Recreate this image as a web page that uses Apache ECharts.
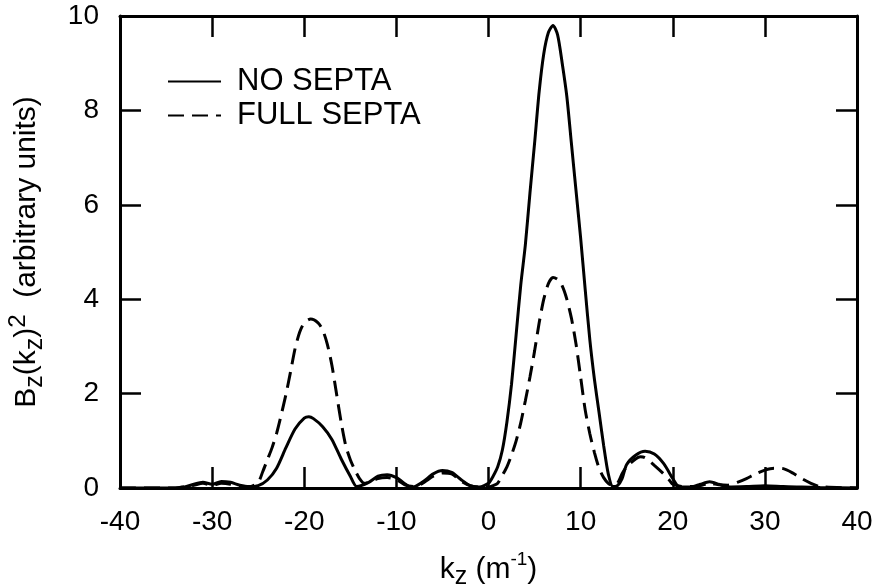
<!DOCTYPE html>
<html>
<head>
<meta charset="utf-8">
<script src="https://cdn.jsdelivr.net/npm/echarts@6/dist/echarts.min.js"></script>
<style>
  html, body { margin: 0; padding: 0; background: #fff; }
  #chart { width: 880px; height: 585px; }
</style>
</head>
<body>
<div id="chart"></div>
<script>
// k_z values (m^-1) and spectrum values
const kNoSepta = [-40, -34, -33, -32, -31, -30, -29, -28, -27, -26, -25, -24, -23, -22, -21, -20, -19.5, -19, -18, -17, -16, -15, -14.3,
  -13, -12, -11, -10, -9, -8.5, -8, -7, -6, -5, -4, -3, -2, -1, 0, 0.5, 1, 1.5, 2, 2.5, 3, 3.5, 4, 4.5, 5, 5.5, 6, 6.5, 7, 7.5, 8, 8.5,
  9, 9.5, 10, 10.5, 11, 11.5, 12, 12.5, 13, 13.5, 14, 14.5, 15, 16, 17, 18, 19, 20, 20.5, 21, 22, 23, 24, 25, 26, 28, 30, 32, 34, 36, 40]
const noSepta = [0, 0, 0.02, 0.08, 0.12, 0.08, 0.14, 0.12, 0.06, 0.03, 0.05, 0.17, 0.42, 0.85, 1.25, 1.48, 1.51, 1.47, 1.3, 1.03, 0.62, 0.25, 0.03,
  0.12, 0.25, 0.28, 0.22, 0.08, 0.02, 0.03, 0.15, 0.3, 0.37, 0.33, 0.18, 0.05, 0.02, 0.1, 0.25, 0.45, 0.8, 1.4, 2.2, 3.25, 4.3, 5.15, 6.25, 7.3, 8.4, 9.2, 9.65, 9.8, 9.6, 9.0, 8.3,
  7.3, 6.3, 5.3, 4.2, 3.14, 2.3, 1.6, 0.9, 0.3, 0.03, 0.05, 0.2, 0.5, 0.7, 0.78, 0.72, 0.52, 0.2, 0.05, 0.02, 0.02, 0.08, 0.13, 0.08, 0.02, 0.03, 0.05, 0.03, 0.02, 0.01, 0]

const kFullSepta = [-40, -34, -33, -32, -31, -30, -29, -28, -27, -26, -25, -24.5, -24, -23.5, -23, -22.5, -22, -21.5, -21, -20.5, -20, -19.3, -18.5, -18, -17.5, -17, -16.5,
  -16, -15.5, -15, -14.5, -14, -13.5, -13, -12, -11, -10, -9, -8, -7, -6, -5, -4, -3, -2, -1, 0, 0.5, 1, 1.5, 2, 2.5, 3, 3.5, 4, 4.5, 5, 5.5, 6, 6.5, 7, 7.5, 8, 8.5,
  9, 9.5, 10, 10.5, 11, 11.5, 12, 12.5, 13, 13.5, 14, 14.5, 15, 16, 16.5, 17, 18, 19, 19.7, 20, 21, 22, 23, 24, 25, 26, 27, 28, 29, 30, 31, 32, 33, 34, 35, 36, 40]
const fullSepta = [0, 0, 0.03, 0.06, 0.1, 0.06, 0.1, 0.08, 0.03, 0.02, 0.12, 0.35, 0.6, 0.85, 1.16, 1.55, 1.97, 2.45, 2.95, 3.3, 3.5, 3.58, 3.5, 3.35, 3.05, 2.6, 2.0,
  1.4, 0.9, 0.6, 0.38, 0.2, 0.1, 0.12, 0.2, 0.22, 0.18, 0.06, 0.03, 0.12, 0.25, 0.32, 0.3, 0.15, 0.05, 0.02, 0.02, 0.05, 0.1, 0.27, 0.45, 0.7, 1.0, 1.38, 1.85, 2.35, 2.9, 3.5, 4.0, 4.33, 4.46, 4.42, 4.28, 4.0,
  3.6, 3.05, 2.35, 1.65, 1.15, 0.75, 0.42, 0.22, 0.1, 0.05, 0.1, 0.3, 0.45, 0.62, 0.66, 0.64, 0.48, 0.3, 0.15, 0.08, 0.03, 0.03, 0.05, 0.1, 0.07, 0.06, 0.12, 0.2, 0.3, 0.38, 0.42, 0.41, 0.32, 0.2, 0.1, 0.03, 0]

const seriesNames = ['NO SEPTA', 'FULL SEPTA']

const FONT = '"Liberation Sans", Arial, Helvetica, sans-serif'

function pairs (ks, vs) {
  return ks.map((k, i) => [k, vs[i]])
}

const frameAxis = {
  axisLine: { show: true, onZero: false, lineStyle: { color: '#000', width: 3 } },
  axisTick: { show: true, inside: true, length: 21, lineStyle: { color: '#000', width: 2.5 } },
  splitLine: { show: false }
}

const myChart = echarts.init(document.getElementById('chart'), null, { renderer: 'canvas' })

const option = {
  animation: false,
  backgroundColor: '#fff',
  grid: { left: 120, right: 23, top: 16, bottom: 97, containLabel: false, outerBoundsMode: 'none' },
  legend: {
    data: seriesNames,
    orient: 'vertical',
    left: 162,
    top: 61,
    itemWidth: 53,
    itemHeight: 14,
    itemGap: 3,
    itemStyle: { opacity: 0 },
    textStyle: { color: '#000', fontSize: 31, fontFamily: FONT, padding: [0, 0, 0, 11] }
  },
  xAxis: [
    Object.assign({}, frameAxis, {
      type: 'value',
      min: -40,
      max: 40,
      interval: 10,
      position: 'bottom',
      axisLabel: { color: '#000', fontSize: 28, fontFamily: FONT, margin: 20 },
      name: '{m|k}{s|z}{m| (m}{p|-1}{m|)}',
      nameLocation: 'middle',
      nameGap: 62,
      nameTextStyle: {
        rich: {
          m: { fontSize: 30, fontFamily: FONT, color: '#000', lineHeight: 40 },
          s: { fontSize: 25, fontFamily: FONT, color: '#000', verticalAlign: 'bottom', lineHeight: 40 },
          p: { fontSize: 19, fontFamily: FONT, color: '#000', verticalAlign: 'top', lineHeight: 40 }
        }
      }
    }),
    Object.assign({}, frameAxis, {
      type: 'value',
      min: -40,
      max: 40,
      interval: 10,
      position: 'top',
      axisLabel: { show: false }
    })
  ],
  yAxis: [
    Object.assign({}, frameAxis, {
      type: 'value',
      min: 0,
      max: 10,
      interval: 2,
      position: 'left',
      axisLabel: { color: '#000', fontSize: 28, fontFamily: FONT, margin: 21 },
      name: '{m|B}{s|z}{m|(k}{s|z}{m|)}{p|2}{m|  (arbitrary units)}',
      nameLocation: 'middle',
      nameGap: 72,
      nameRotate: 90,
      nameTextStyle: {
        rich: {
          m: { fontSize: 30, fontFamily: FONT, color: '#000', lineHeight: 42 },
          s: { fontSize: 25, fontFamily: FONT, color: '#000', verticalAlign: 'bottom', lineHeight: 42 },
          p: { fontSize: 24, fontFamily: FONT, color: '#000', verticalAlign: 'top', lineHeight: 42 }
        }
      }
    }),
    Object.assign({}, frameAxis, {
      type: 'value',
      min: 0,
      max: 10,
      interval: 2,
      position: 'right',
      axisLabel: { show: false }
    })
  ],
  series: [
    {
      name: seriesNames[0],
      type: 'line',
      data: pairs(kNoSepta, noSepta),
      showSymbol: false,
      symbol: 'none',
      smooth: 0.25,
      lineStyle: { color: '#000', width: 3, type: 'solid' },
      itemStyle: { color: '#000' }
    },
    {
      name: seriesNames[1],
      type: 'line',
      data: pairs(kFullSepta, fullSepta),
      showSymbol: false,
      symbol: 'none',
      smooth: 0.25,
      lineStyle: { color: '#000', width: 3, type: [16, 8] },
      itemStyle: { color: '#000' }
    }
  ]
}

myChart.setOption(option)
</script>
</body>
</html>
